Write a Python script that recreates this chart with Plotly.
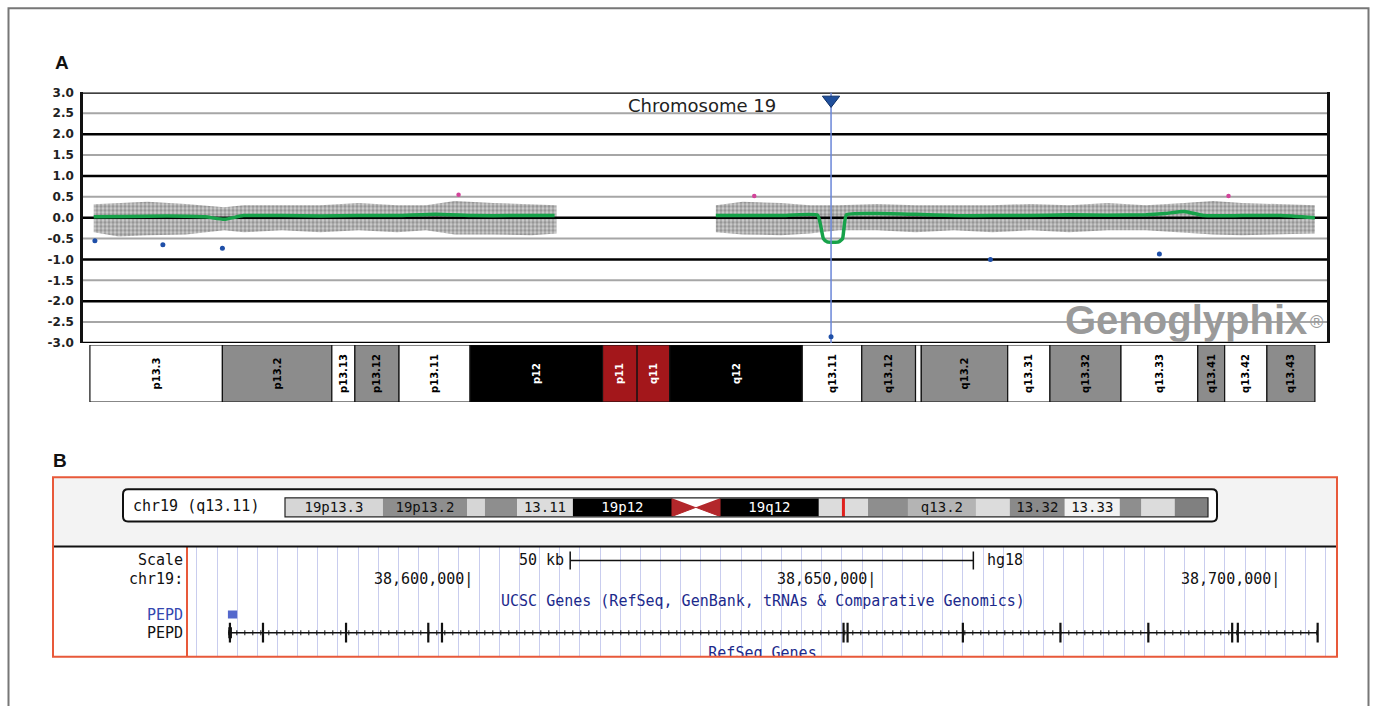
import plotly.graph_objects as go

W, H = 1375, 706
# the photographed page maps page rows 0..706 onto picture rows ~7.8..698.2,
# so vertical positions (given in picture pixels) are converted back to page pixels
V_OFF, V_SCALE = 7.8, 0.9779


def fx(p):
    return p / W


def fy(p):
    return 1 - ((p - V_OFF) / V_SCALE) / H


# ---------------- Panel A data ----------------
y_tick_vals = [3.0, 2.5, 2.0, 1.5, 1.0, 0.5, 0.0, -0.5, -1.0, -1.5, -2.0, -2.5, -3.0]
y_tick_text = ["3.0", "2.5", "2.0", "1.5", "1.0", "0.5", "0.0", "-0.5", "-1.0", "-1.5", "-2.0", "-2.5", "-3.0"]
x_range_a = [-0.36, 64.43]  # Mb

band_names = ["p13.3", "p13.2", "p13.13", "p13.12", "p13.11", "p12", "p11", "q11", "q12",
              "q13.11", "q13.12", "", "q13.2", "q13.31", "q13.32", "q13.33", "q13.41", "q13.42", "q13.43"]
band_start = [0.0, 6.9, 12.6, 13.8, 16.1, 19.8, 26.7, 28.5, 30.2, 37.1, 40.2, 43.0, 43.3, 47.8,
              50.0, 53.7, 57.7, 59.1, 61.3]
band_end = [6.9, 12.6, 13.8, 16.1, 19.8, 26.7, 28.5, 30.2, 37.1, 40.2, 43.0, 43.3, 47.8, 50.0,
            53.7, 57.7, 59.1, 61.3, 63.8]
band_stain = ["white", "gray", "white", "gray", "white", "black", "red", "red", "black",
              "white", "gray", "white", "gray", "white", "gray", "white", "gray", "white", "gray"]

cloud_p_x = [0.2, 1.5, 3, 5, 7, 8, 10, 12, 14, 16, 17.5, 19, 21, 23, 24.3]
cloud_p_hi = [0.32, 0.35, 0.38, 0.33, 0.25, 0.3, 0.3, 0.3, 0.35, 0.3, 0.3, 0.4, 0.35, 0.32, 0.3]
cloud_p_lo = [-0.35, -0.45, -0.42, -0.4, -0.3, -0.35, -0.3, -0.35, -0.3, -0.35, -0.3, -0.4, -0.4, -0.42, -0.38]

cloud_q_x = [32.6, 34, 36, 37.5, 39, 41, 43, 45, 47, 49, 51, 53, 55, 57, 58.5, 60, 62, 63.8]
cloud_q_hi = [0.3, 0.38, 0.35, 0.3, 0.3, 0.33, 0.3, 0.3, 0.3, 0.33, 0.3, 0.35, 0.3, 0.35, 0.4, 0.35, 0.33, 0.3]
cloud_q_lo = [-0.35, -0.4, -0.42, -0.38, -0.3, -0.3, -0.35, -0.3, -0.35, -0.3, -0.35, -0.3, -0.3, -0.35,
              -0.4, -0.42, -0.4, -0.38]

trend_p_x = [0.2, 2, 4, 6, 7, 8, 10, 12, 14, 16, 18, 20, 22, 24.2]
trend_p_y = [0.02, 0.03, 0.04, 0.02, -0.04, 0.05, 0.05, 0.04, 0.05, 0.05, 0.08, 0.05, 0.05, 0.05]
trend_q_x = [32.6, 34, 36, 37.9, 38.2, 38.4, 39.0, 39.2, 39.4, 41, 43, 45, 47, 49, 51, 53, 55, 56,
             57, 58, 60, 62, 63.8]
trend_q_y = [0.05, 0.05, 0.05, 0.06, -0.5, -0.58, -0.58, -0.5, 0.07, 0.1, 0.08, 0.05, 0.05, 0.05,
             0.07, 0.06, 0.07, 0.1, 0.15, 0.05, 0.05, 0.05, 0.0]

blue_pts_x = [0.26, 3.8, 6.9, 46.9, 55.7, 38.6]
blue_pts_y = [-0.55, -0.65, -0.73, -1.0, -0.87, -2.85]
pink_pts_x = [19.2, 34.6, 59.3]
pink_pts_y = [0.55, 0.52, 0.52]
cursor_mb = 38.6

# ---------------- Panel B data ----------------
b_band_start = [0.0, 6.77, 12.58, 13.82, 16.04, 19.9, 30.07, 36.9, 40.3, 43.06, 47.76, 50.1,
                53.9, 57.7, 59.2, 61.5]
b_band_end = [6.77, 12.58, 13.82, 16.04, 19.9, 26.75, 36.9, 40.3, 43.06, 47.76, 50.1, 53.9,
              57.7, 59.2, 61.5, 63.8]
b_band_label = ["19p13.3", "19p13.2", "", "", "13.11", "19p12", "19q12", "", "", "q13.2", "",
                "13.32", "13.33", "", "", ""]
b_band_color = ["#d6d6d6", "#8e8e8e", "#d6d6d6", "#8e8e8e", "#dcdcdc", "#000000", "#000000",
                "#dcdcdc", "#8e8e8e", "#b4b4b4", "#dcdcdc", "#8a8a8a", "#f2f2f2", "#8e8e8e",
                "#dcdcdc", "#808080"]
centromere = (26.75, 28.4, 30.07)

view_bp = [38565000, 38707500]
coord_ticks = [38600000, 38650000, 38700000]
scale_bar = (38612400, 38662400)
gene_span = (38570000, 38705100)
gene_utr = (38570000, 38570450)
gene_exons = [38570200, 38574300, 38584600, 38594800, 38596500, 38646300, 38646800, 38661100,
              38673200, 38684100, 38694500, 38695200, 38705100]
ucsc_gene = (38569950, 38571100)

# track rows (picture pixels)
TRACK_TOP, TRACK_BOTTOM = 547, 656
ROW_SCALE, ROW_COORD, ROW_UCSC, ROW_UCSC_GENE, ROW_REFSEQ, ROW_REFSEQ_LBL = 560, 578, 600, 614, 632, 654

stain_fill = {"white": "#ffffff", "gray": "#8c8c8c", "black": "#000000", "red": "#a3171b"}
stain_text = {"white": "#000000", "gray": "#000000", "black": "#ffffff", "red": "#ffffff"}

fig = go.Figure()

# ---- Panel A grid lines (built from tick values) ----
minor_x, minor_y, major_x, major_y = [], [], [], []
for v in y_tick_vals:
    if abs(v - round(v)) < 1e-9:
        major_x += [x_range_a[0], x_range_a[1], None]
        major_y += [v, v, None]
    else:
        minor_x += [x_range_a[0], x_range_a[1], None]
        minor_y += [v, v, None]

fig.add_trace(go.Scatter(x=minor_x, y=minor_y, mode="lines", line=dict(color="#a6a6a6", width=2),
                         hoverinfo="skip", showlegend=False))

for cx, hi, lo in [(cloud_p_x, cloud_p_hi, cloud_p_lo), (cloud_q_x, cloud_q_hi, cloud_q_lo)]:
    fig.add_trace(go.Scatter(
        x=cx + cx[::-1], y=hi + lo[::-1], mode="lines", fill="toself",
        line=dict(width=0, color="rgba(0,0,0,0)"),
        fillcolor="rgba(160,160,160,0.6)",
        fillpattern=dict(shape=".", fgcolor="#5e5e5e", bgcolor="rgba(175,175,175,0.6)",
                         size=4, solidity=0.6),
        hoverinfo="skip", showlegend=False))

fig.add_trace(go.Scatter(x=major_x, y=major_y, mode="lines", line=dict(color="#000000", width=2.5),
                         hoverinfo="skip", showlegend=False))

for tx, ty in [(trend_p_x, trend_p_y), (trend_q_x, trend_q_y)]:
    fig.add_trace(go.Scatter(x=tx, y=ty, mode="lines",
                             line=dict(color="#17a24a", width=3.5, shape="spline", smoothing=0.4),
                             hoverinfo="skip", showlegend=False))

fig.add_trace(go.Scatter(x=[cursor_mb, cursor_mb], y=[-3, 3], mode="lines",
                         line=dict(color="#6a86d8", width=1.5), hoverinfo="skip", showlegend=False))
fig.add_trace(go.Scatter(x=[cursor_mb], y=[2.82], mode="markers", cliponaxis=False,
                         marker=dict(symbol="triangle-down", size=15, color="#1f4f9c",
                                     line=dict(color="#0d2f66", width=1)),
                         hoverinfo="skip", showlegend=False))
fig.add_trace(go.Scatter(x=blue_pts_x, y=blue_pts_y, mode="markers",
                         marker=dict(size=5, color="#1f4fa8"), hoverinfo="skip", showlegend=False))
fig.add_trace(go.Scatter(x=pink_pts_x, y=pink_pts_y, mode="markers",
                         marker=dict(size=4.5, color="#d2449a"), hoverinfo="skip", showlegend=False))

# ---- Panel A ideogram ----
fig.add_trace(go.Bar(
    y=[0] * len(band_names), base=band_start,
    x=[e - s for s, e in zip(band_start, band_end)], orientation="h", width=1,
    marker=dict(color=[stain_fill[s] for s in band_stain], line=dict(color="#111111", width=1.2)),
    text=band_names, textposition="inside", insidetextanchor="middle", textangle=-90,
    constraintext="none",
    textfont=dict(family="DejaVu Sans", size=10, weight="bold", color=[stain_text[s] for s in band_stain]),
    xaxis="x2", yaxis="y2", hoverinfo="skip", showlegend=False))

# ---- Panel B ideogram ----
fig.add_trace(go.Bar(
    y=[0] * len(b_band_label), base=b_band_start,
    x=[e - s for s, e in zip(b_band_start, b_band_end)], orientation="h", width=1,
    marker=dict(color=b_band_color, line=dict(width=0)),
    text=b_band_label, textposition="inside", insidetextanchor="middle", constraintext="none",
    textfont=dict(family="DejaVu Sans Mono", size=14,
                  color=["#ffffff" if c == "#000000" else "#111111" for c in b_band_color]),
    xaxis="x4", yaxis="y4", hoverinfo="skip", showlegend=False))
c0, cm, c1 = centromere
fig.add_trace(go.Scatter(x=[c0, c0, cm, None, c1, c1, cm], y=[0.5, -0.5, 0, None, 0.5, -0.5, 0],
                         mode="lines", fill="toself", fillcolor="#b3272b", line=dict(color="#b3272b", width=1),
                         xaxis="x4", yaxis="y4", hoverinfo="skip", showlegend=False))
fig.add_trace(go.Scatter(x=[cursor_mb, cursor_mb], y=[-0.72, 0.72], mode="lines", cliponaxis=False,
                         line=dict(color="#e0201c", width=3), xaxis="x4", yaxis="y4",
                         hoverinfo="skip", showlegend=False))

# ---- Panel B tracks (y3 measured in picture pixels, reversed) ----
fig.add_trace(go.Scatter(x=list(scale_bar), y=[ROW_SCALE] * 2, mode="lines+markers",
                         line=dict(color="#111111", width=1.3),
                         marker=dict(symbol="line-ns", size=13, line=dict(color="#111111", width=1.5)),
                         xaxis="x3", yaxis="y3", hoverinfo="skip", showlegend=False))
fig.add_trace(go.Scatter(x=list(ucsc_gene), y=[ROW_UCSC_GENE] * 2, mode="lines",
                         line=dict(color="#5468cc", width=8), xaxis="x3", yaxis="y3",
                         hoverinfo="skip", showlegend=False))
fig.add_trace(go.Scatter(x=list(gene_span), y=[ROW_REFSEQ] * 2, mode="lines",
                         line=dict(color="#111111", width=1.5), xaxis="x3", yaxis="y3",
                         hoverinfo="skip", showlegend=False))
fig.add_trace(go.Scatter(x=list(gene_span), y=[ROW_REFSEQ] * 2, mode="lines",
                         line=dict(color="#111111", width=5, dash="1px,7px"), xaxis="x3", yaxis="y3",
                         hoverinfo="skip", showlegend=False))
fig.add_trace(go.Scatter(x=list(gene_utr), y=[ROW_REFSEQ] * 2, mode="lines",
                         line=dict(color="#111111", width=11), xaxis="x3", yaxis="y3",
                         hoverinfo="skip", showlegend=False))
fig.add_trace(go.Scatter(x=gene_exons, y=[ROW_REFSEQ] * len(gene_exons), mode="markers",
                         marker=dict(symbol="line-ns", size=14, line=dict(color="#111111", width=2.2)),
                         xaxis="x3", yaxis="y3", hoverinfo="skip", showlegend=False))
fig.add_trace(go.Scatter(x=[sum(view_bp) / 2], y=[ROW_REFSEQ_LBL], mode="text", text=["RefSeq Genes"],
                         cliponaxis=True,
                         textfont=dict(family="DejaVu Sans Mono", size=15, color="#1c2a8c"),
                         xaxis="x3", yaxis="y3", hoverinfo="skip", showlegend=False))

mono = "DejaVu Sans Mono"


def note(x, y, text, font, xref="paper", yref="paper", xanchor="center", xshift=0):
    return dict(x=x, y=y, xref=xref, yref=yref, text=text, showarrow=False, font=font,
                xanchor=xanchor, yanchor="middle", xshift=xshift)


mfont = dict(family=mono, size=15, color="#111")
annotations = [
    note(fx(62), fy(63), "<b>A</b>", dict(family="Liberation Sans", size=19, color="#111")),
    note(fx(60), fy(460), "<b>B</b>", dict(family="Liberation Sans", size=19, color="#111")),
    note(fx(702), fy(106), "Chromosome 19", dict(family="DejaVu Sans", size=18, color="#222")),
    note(fx(1309), fy(320), "<b>Genoglyphix</b>", dict(family="Liberation Sans", size=40, color="#9a9a9a"),
         xanchor="right"),
    note(fx(1308), fy(322), "®", dict(family="Liberation Sans", size=18, color="#9a9a9a"), xanchor="left"),
    note(fx(131), fy(506), "chr19 (q13.11)", mfont, xanchor="left"),
    note(fx(185), fy(ROW_SCALE), "Scale", mfont, xanchor="right"),
    note(fx(185), fy(ROW_COORD), "chr19:", mfont, xanchor="right"),
    note(fx(185), fy(ROW_UCSC_GENE), "PEPD", dict(family=mono, size=15, color="#3447b0"), xanchor="right"),
    note(fx(185), fy(ROW_REFSEQ), "PEPD", mfont, xanchor="right"),
    note(scale_bar[0], ROW_SCALE, "50 kb", mfont, xref="x3", yref="y3", xanchor="right", xshift=-4),
    note(scale_bar[1], ROW_SCALE, "hg18", mfont, xref="x3", yref="y3", xanchor="left", xshift=12),
    note(sum(view_bp) / 2, ROW_UCSC, "UCSC Genes (RefSeq, GenBank, tRNAs &amp; Comparative Genomics)",
         dict(family=mono, size=15, color="#1c2a8c"), xref="x3", yref="y3"),
]
for t in coord_ticks:
    annotations.append(note(t, ROW_COORD, f"{t:,}|", mfont, xref="x3", yref="y3", xanchor="right", xshift=5))

# rounded outline of the panel-B ideogram box
bx0, bx1, by0, by1 = fx(123), fx(1217), fy(521), fy(489)
rx, ry = 5 / W, 5 / H
box_path = (f"M {bx0 + rx},{by1} L {bx1 - rx},{by1} Q {bx1},{by1} {bx1},{by1 - ry} "
            f"L {bx1},{by0 + ry} Q {bx1},{by0} {bx1 - rx},{by0} L {bx0 + rx},{by0} "
            f"Q {bx0},{by0} {bx0},{by0 + ry} L {bx0},{by1 - ry} Q {bx0},{by1} {bx0 + rx},{by1} Z")

shapes = [
    # outer figure frame
    dict(type="rect", xref="paper", yref="paper", x0=fx(8.5), x1=fx(1368.5), y0=-0.05, y1=fy(9),
         line=dict(color="#777777", width=2), layer="below"),
    # panel B top band background
    dict(type="rect", xref="paper", yref="paper", x0=fx(53), x1=fx(1337), y0=fy(545), y1=fy(477),
         fillcolor="#f3f3f3", line=dict(width=0), layer="below"),
    # panel B ideogram box
    dict(type="path", xref="paper", yref="paper", path=box_path,
         fillcolor="#ffffff", line=dict(color="#111111", width=2), layer="below"),
    dict(type="rect", xref="paper", yref="paper", x0=fx(285), x1=fx(1208), y0=fy(516.5), y1=fy(497.5),
         line=dict(color="#222222", width=1.2), layer="above"),
    # separator
    dict(type="line", xref="paper", yref="paper", x0=fx(53), x1=fx(1337), y0=fy(546), y1=fy(546),
         line=dict(color="#111111", width=2)),
    # panel B border
    dict(type="rect", xref="paper", yref="paper", x0=fx(53), x1=fx(1337), y0=fy(656), y1=fy(477),
         line=dict(color="#e8593a", width=2), layer="above"),
]

fig.update_layout(
    width=W, height=H, margin=dict(l=0, r=0, t=0, b=0),
    paper_bgcolor="#ffffff", plot_bgcolor="rgba(0,0,0,0)",
    barmode="overlay", showlegend=False,
    xaxis=dict(domain=[fx(83), fx(1327)], range=x_range_a, showgrid=False, zeroline=False,
               showticklabels=False, ticks="", showline=False, fixedrange=True),
    yaxis=dict(domain=[fy(343), fy(93)], range=[-3, 3], tickvals=y_tick_vals, ticktext=y_tick_text,
               showgrid=False, zeroline=False, ticks="outside", ticklen=4, tickcolor="rgba(0,0,0,0)",
               showline=True, mirror=True, linecolor="#111111", linewidth=2.5,
               tickfont=dict(family="DejaVu Sans", size=12, weight="bold", color="#222")),
    xaxis2=dict(domain=[fx(83), fx(1327)], range=x_range_a, anchor="y2", showgrid=False,
                zeroline=False, showticklabels=False, ticks=""),
    yaxis2=dict(domain=[fy(402), fy(345)], range=[-0.5, 0.5], anchor="x2", showgrid=False,
                zeroline=False, showticklabels=False, ticks=""),
    xaxis3=dict(domain=[fx(188), fx(1337)], range=view_bp, anchor="y3", showgrid=True,
                gridcolor="#c9cdee", gridwidth=1, tick0=38566100, dtick=2500, zeroline=False,
                showticklabels=False, ticks=""),
    yaxis3=dict(domain=[fy(TRACK_BOTTOM), fy(TRACK_TOP)], range=[TRACK_BOTTOM, TRACK_TOP], anchor="x3",
                showgrid=False, zeroline=False, showticklabels=False, ticks="", showline=True,
                linecolor="#e8593a", linewidth=1.5),
    xaxis4=dict(domain=[fx(285), fx(1208)], range=[0, 63.8], anchor="y4", showgrid=False,
                zeroline=False, showticklabels=False, ticks=""),
    yaxis4=dict(domain=[fy(516), fy(498)], range=[-0.5, 0.5], anchor="x4", showgrid=False,
                zeroline=False, showticklabels=False, ticks=""),
    annotations=annotations, shapes=shapes,
)

fig.write_html(
    "out.html",
    config={"displayModeBar": False},
    post_script="document.body.style.margin='0';document.body.style.overflow='hidden';"
                "document.documentElement.style.overflow='hidden';",
)
